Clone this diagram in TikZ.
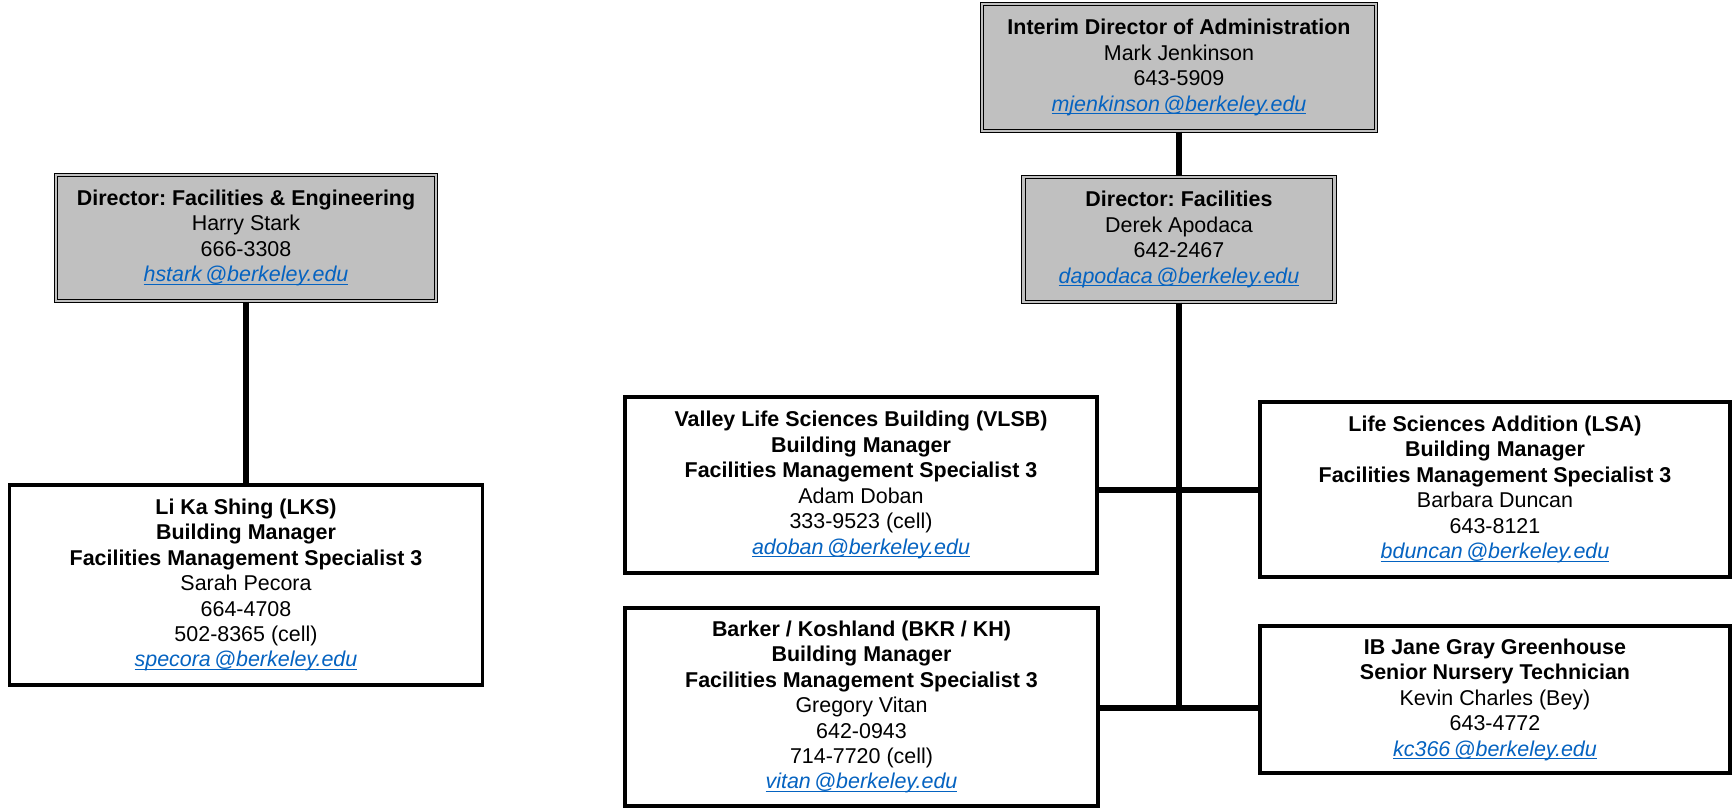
\documentclass[tikz,border=0pt]{standalone}
\usepackage{fontspec}
\setmainfont{Liberation Sans}
\usepackage{xcolor}
\usetikzlibrary{positioning}
\frenchspacing
\definecolor{boxgray}{HTML}{C0C0C0}
\definecolor{maillink}{HTML}{0563C1}
\newcommand{\emailto}[2]{{\color{maillink}\itshape\setbox0\hbox{#1\kern2pt@#2}\rlap{\rule[-1.7pt]{\wd0}{0.65pt}}\box0}}

\begin{document}
\begin{tikzpicture}[
    box/.style={rectangle, draw, line width=2.1pt, fill=white, inner sep=0pt, align=center, font=\fontsize{12.2}{14.5}\selectfont},
    graybox/.style={rectangle, draw, double=boxgray, double distance=1.3pt, line width=0.6pt, fill=boxgray, inner sep=0pt, align=center, font=\fontsize{12.2}{14.5}\selectfont},
    link/.style={line width=3.3pt}
]
\useasboundingbox (0,0) rectangle (34.66,16.18);

% Administration
\node[graybox, minimum width=7.88cm, minimum height=2.54cm] (interim) at (23.58, 14.83) {\textbf{Interim Director of Administration}\\ Mark Jenkinson\\ 643-5909\\ \emailto{mjenkinson}{berkeley.edu}};
\node[graybox, minimum width=6.22cm, minimum height=2.5cm] (dirfac) at (23.58, 11.39) {\textbf{Director: Facilities}\\ Derek Apodaca\\ 642-2467\\ \emailto{dapodaca}{berkeley.edu}};

% Facilities & Engineering
\node[graybox, minimum width=7.6cm, minimum height=2.52cm] (direng) at (4.92, 11.42) {\textbf{Director: Facilities \& Engineering}\\ Harry Stark\\ 666-3308\\ \emailto{hstark}{berkeley.edu}};
\node[box, minimum width=9.46cm, minimum height=4cm] (lks) at (4.92, 4.48) {\textbf{Li Ka Shing (LKS)}\\ \textbf{Building Manager}\\ \textbf{Facilities Management Specialist 3}\\ Sarah Pecora\\ 664-4708\\ 502-8365 (cell)\\ \emailto{specora}{berkeley.edu}};

% Building managers
\node[box, minimum width=9.44cm, minimum height=3.52cm] (vlsb) at (17.22, 6.48) {\textbf{Valley Life Sciences Building (VLSB)}\\ \textbf{Building Manager}\\ \textbf{Facilities Management Specialist 3}\\ Adam Doban\\ 333-9523 (cell)\\ \emailto{adoban}{berkeley.edu}};
\node[box, minimum width=9.4cm, minimum height=3.5cm] (lsa) at (29.9, 6.39) {\textbf{Life Sciences Addition (LSA)}\\ \textbf{Building Manager}\\ \textbf{Facilities Management Specialist 3}\\ Barbara Duncan\\ 643-8121\\ \emailto{bduncan}{berkeley.edu}};
\node[box, minimum width=9.46cm, minimum height=3.96cm] (barker) at (17.23, 2.04) {\textbf{Barker / Koshland (BKR / KH)}\\ \textbf{Building Manager}\\ \textbf{Facilities Management Specialist 3}\\ Gregory Vitan\\ 642-0943\\ 714-7720 (cell)\\ \emailto{vitan}{berkeley.edu}};
\node[box, minimum width=9.4cm, minimum height=2.94cm] (ib) at (29.9, 2.19) {\textbf{IB Jane Gray Greenhouse}\\ \textbf{Senior Nursery Technician}\\ Kevin Charles (Bey)\\ 643-4772\\ \emailto{kc366}{berkeley.edu}};

% connectors
\coordinate (upper) at (23.58, 6.38);
\coordinate (lower) at (23.58, 2.02);
\draw[link] (interim) -- (dirfac);
\draw[link] (direng) -- (lks);
\draw[link] (dirfac.south) -- (lower);
\draw[link] (vlsb.east |- upper) -- (lsa.west |- upper);
\draw[link] (barker.east |- lower) -- (ib.west |- lower);

\end{tikzpicture}
\end{document}
